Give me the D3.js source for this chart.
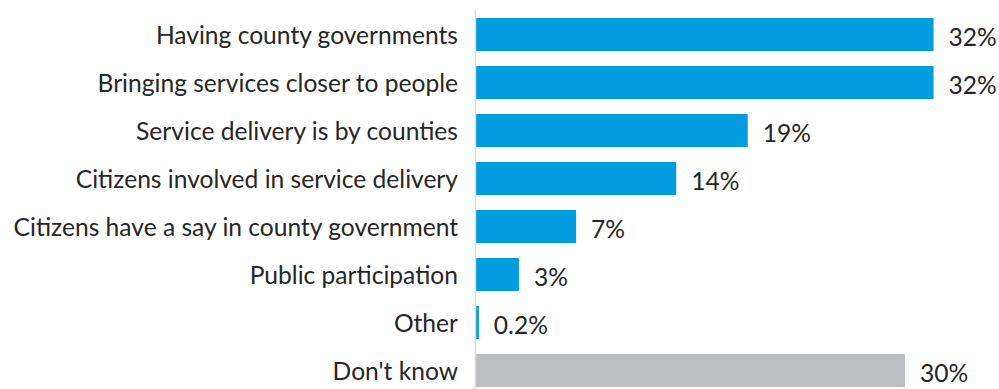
<!DOCTYPE html>
<html>
<head>
<meta charset="utf-8">
<script src="https://cdn.jsdelivr.net/npm/d3@7"></script>
<style>
  html, body { margin: 0; padding: 0; background: #fff; }
  svg text { font-family: Lato, "Open Sans", sans-serif; fill: #262626; }
</style>
</head>
<body>
<svg id="chart" width="999" height="389"></svg>
<script>
// Responses, in display order
const categories = [
  "Having county governments",
  "Bringing services closer to people",
  "Service delivery is by counties",
  "Citizens involved in service delivery",
  "Citizens have a say in county government",
  "Public participation",
  "Other",
  "Don't know"
];
const values = [32, 32, 19, 14, 7, 3, 0.2, 30];
const valueLabels = ["32%", "32%", "19%", "14%", "7%", "3%", "0.2%", "30%"];
const isDontKnow = [false, false, false, false, false, false, false, true];

const W = 999, H = 389;
const axisX = 476;
const fontSize = 24.6;

const svg = d3.select("#chart");

const x = d3.scaleLinear().domain([0, 32]).range([axisX, axisX + 457.6]);
const y = d3.scaleBand()
  .domain(categories)
  .range([10.5, 394.5])
  .paddingInner(0.3125)
  .paddingOuter(0.15625);

const rows = categories.map((c, i) => ({ c, v: values[i], label: valueLabels[i], grey: isDontKnow[i] }));

// bars
svg.append("g").selectAll("rect")
  .data(rows)
  .join("rect")
  .attr("x", x(0))
  .attr("y", d => y(d.c))
  .attr("width", d => Math.max(1.5, x(d.v) - x(0)))
  .attr("height", y.bandwidth())
  .attr("fill", d => d.grey ? "#BCBEC1" : "#009CDE");

// vertical category axis line
svg.append("line")
  .attr("x1", axisX - 0.5).attr("x2", axisX - 0.5)
  .attr("y1", 10).attr("y2", H)
  .attr("stroke", "#D9D9D9").attr("stroke-width", 1.5);

// category labels
svg.append("g").selectAll("text")
  .data(rows)
  .join("text")
  .attr("x", axisX - 18)
  .attr("y", d => y(d.c) + y.bandwidth() / 2 + 1)
  .attr("dy", "0.35em")
  .attr("text-anchor", "end")
  .style("font-size", fontSize + "px")
  .text(d => d.c);

// value labels
svg.append("g").selectAll("text")
  .data(rows)
  .join("text")
  .attr("x", d => x(d.v) + 15)
  .attr("y", d => y(d.c) + y.bandwidth() / 2 + 3)
  .attr("dy", "0.35em")
  .style("font-size", fontSize + "px")
  .text(d => d.label);
</script>
</body>
</html>
